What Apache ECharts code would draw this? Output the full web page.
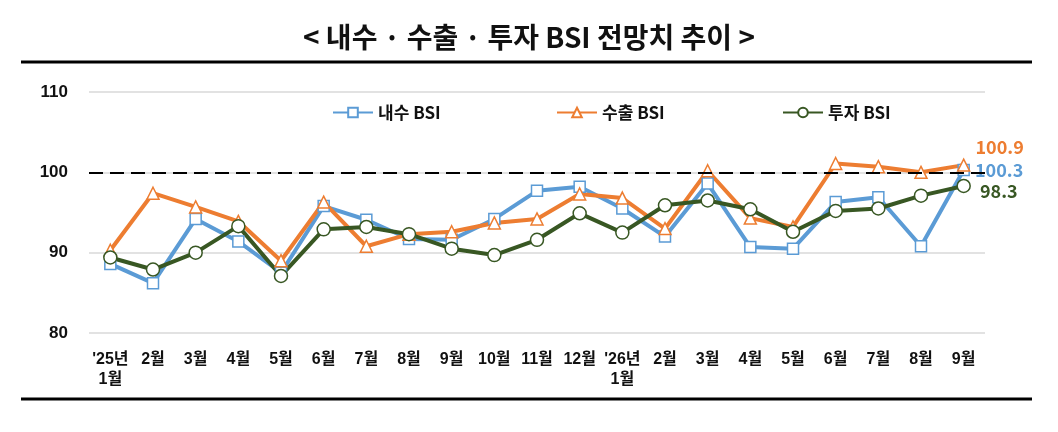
<!DOCTYPE html>
<html>
<head>
<meta charset="utf-8">
<script src="https://cdn.jsdelivr.net/npm/echarts@6/dist/echarts.min.js"></script>
<style>
  html, body { margin: 0; padding: 0; background: #fff; }
  #chart { width: 1058px; height: 432px; }
</style>
</head>
<body>
<div id="chart"></div>
<script>
// 내수 · 수출 · 투자 BSI 전망치 추이
const months = ["'25년\n1월", "2월", "3월", "4월", "5월", "6월", "7월", "8월", "9월", "10월", "11월", "12월",
  "'26년\n1월", "2월", "3월", "4월", "5월", "6월", "7월", "8월", "9월"];
const domesticBsi = [88.6, 86.2, 94.2, 91.4, 87.5, 95.8, 94.1, 91.7, 91.6, 94.2, 97.7, 98.2,
  95.5, 92.0, 98.6, 90.7, 90.5, 96.3, 96.9, 90.8, 100.3];
const exportBsi = [90.3, 97.4, 95.7, 93.9, 89.0, 96.3, 90.8, 92.3, 92.6, 93.7, 94.2, 97.3,
  96.8, 93.0, 100.2, 94.3, 93.2, 101.1, 100.7, 100.0, 100.9];
const investBsi = [89.4, 87.9, 90.0, 93.3, 87.1, 92.9, 93.2, 92.3, 90.5, 89.7, 91.6, 94.9,
  92.5, 95.9, 96.5, 95.4, 92.6, 95.2, 95.5, 97.1, 98.3];
const yTicks = [80, 90, 100, 110];

const BLUE = "#5b9bd5";
const ORANGE = "#ed7d31";
const GREEN = "#385723";
const KR = "'Noto Sans CJK KR', sans-serif";
const NUM = "'Liberation Sans Narrow', 'Noto Sans CJK KR', sans-serif";

const chart = echarts.init(document.getElementById("chart"));

// 마지막 달에만 값 라벨 표시
function withEndLabel(values, color, offset, distance) {
  const last = values.length - 1;
  return values.map((v, i) => i !== last ? v : {
    value: v,
    label: {
      show: true, position: "right", distance: distance, offset: offset,
      color: color, fontFamily: NUM, fontSize: 18, fontWeight: "bold"
    }
  });
}

function lineSeries(name, values, color, symbol, size, offset, distance) {
  return {
    name: name,
    type: "line",
    data: withEndLabel(values, color, offset, distance),
    symbol: symbol,
    symbolSize: size,
    lineStyle: { color: color, width: 4 },
    itemStyle: { color: "#fff", borderColor: color, borderWidth: 1.5 },
    emphasis: { disabled: true },
    z: 3
  };
}

const legendBase = {
  top: 99, itemWidth: 40, itemHeight: 12, itemGap: 4,
  textStyle: { fontFamily: KR, fontSize: 17, fontWeight: "bold", color: "#111" }
};

const series = [
  lineSeries("내수 BSI", domesticBsi, BLUE, "rect", 11, [0, 0], 5),
  lineSeries("수출 BSI", exportBsi, ORANGE, "triangle", 12, [0, -18], 5),
  lineSeries("투자 BSI", investBsi, GREEN, "circle", 13, [0, 5], 9)
];
series[0].markLine = {
  silent: true, symbol: "none", label: { show: false },
  lineStyle: { color: "#000", type: [14, 7], width: 2 },
  data: [{ yAxis: 100 }]
};

chart.setOption({
  animation: false,
  title: {
    text: "< 내수 · 수출 · 투자 BSI 전망치 추이 >",
    left: "center", top: 18,
    textStyle: { fontFamily: KR, fontSize: 28, fontWeight: "bold", color: "#111" }
  },
  legend: [
    Object.assign({ left: 327, data: ["내수 BSI"] }, legendBase),
    Object.assign({ left: 551, data: ["수출 BSI"] }, legendBase),
    Object.assign({ left: 777, data: ["투자 BSI"] }, legendBase)
  ],
  grid: { left: 89, right: 73, top: 92, bottom: 99 },
  xAxis: {
    type: "category",
    data: months,
    axisLine: { show: false },
    axisTick: { show: false },
    axisLabel: {
      interval: 0, margin: 17, lineHeight: 20, color: "#111",
      fontFamily: "'Liberation Sans', 'Noto Sans CJK KR', sans-serif", fontSize: 16, fontWeight: "bold"
    }
  },
  yAxis: {
    type: "value",
    min: yTicks[0], max: yTicks[yTicks.length - 1], interval: 10,
    axisLine: { show: false },
    axisTick: { show: false },
    axisLabel: {
      margin: 21, color: "#111",
      fontFamily: "'Liberation Sans', sans-serif", fontSize: 17, fontWeight: "bold"
    },
    splitLine: { lineStyle: { color: "#d9d9d9", width: 1.5 } }
  },
  graphic: [
    { type: "line", shape: { x1: 21, y1: 62, x2: 1032, y2: 62 }, style: { stroke: "#000", lineWidth: 3 } },
    { type: "line", shape: { x1: 21, y1: 399, x2: 1032, y2: 399 }, style: { stroke: "#000", lineWidth: 3 } }
  ],
  series: series
});

window.addEventListener("resize", () => chart.resize());
</script>
</body>
</html>
